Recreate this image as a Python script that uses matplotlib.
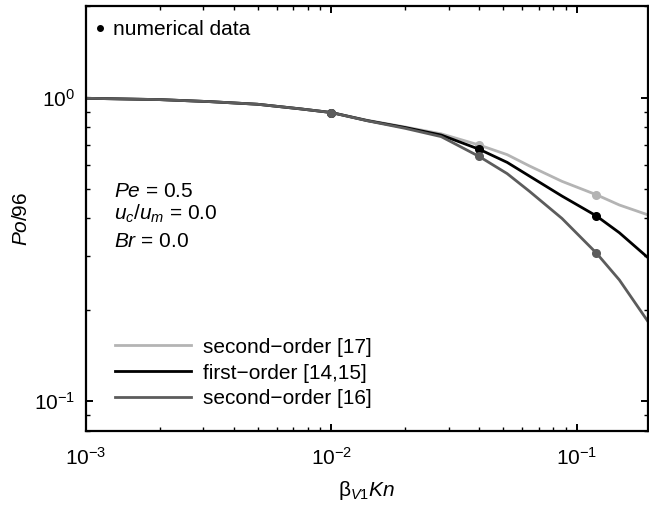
import numpy as np
import matplotlib
matplotlib.use('Agg')
import matplotlib.pyplot as plt
from matplotlib.lines import Line2D

plt.rcParams['font.family'] = ['Liberation Sans', 'DejaVu Sans']
plt.rcParams['mathtext.fontset'] = 'custom'
plt.rcParams['mathtext.rm'] = 'Liberation Sans'
plt.rcParams['mathtext.it'] = 'Liberation Sans:italic'
plt.rcParams['mathtext.bf'] = 'Liberation Sans:bold'

# curves
kn = [0.001, 0.002, 0.0032, 0.005, 0.0075, 0.01, 0.014, 0.02, 0.028, 0.04,
      0.052, 0.064, 0.087, 0.12, 0.149, 0.195]
po_2nd_17 = [0.995, 0.985, 0.970, 0.951, 0.918, 0.893, 0.842, 0.800, 0.760, 0.698,
             0.649, 0.596, 0.530, 0.479, 0.443, 0.411]
po_1st = [0.995, 0.985, 0.970, 0.951, 0.918, 0.893, 0.840, 0.797, 0.753, 0.676,
          0.612, 0.552, 0.474, 0.408, 0.359, 0.297]
po_2nd_16 = [0.995, 0.985, 0.970, 0.951, 0.918, 0.893, 0.839, 0.792, 0.744, 0.640,
             0.562, 0.492, 0.400, 0.308, 0.251, 0.183]

# numerical data points
kn_num = [0.01, 0.04, 0.12]
num_2nd_17 = [0.893, 0.698, 0.479]
num_1st = [0.893, 0.676, 0.408]
num_2nd_16 = [0.893, 0.640, 0.308]

labels = ['second\u2212order [17]', 'first\u2212order [14,15]', 'second\u2212order [16]']
colors = ['#b4b4b4', '#000000', '#5c5c5c']

fig = plt.figure(figsize=(6.49, 5.09), dpi=100)
ax = fig.add_axes([0.1325, 0.1538, 0.866, 0.834])

curves = [po_2nd_17, po_1st, po_2nd_16]
nums = [num_2nd_17, num_1st, num_2nd_16]
handles = []
for yc, yn, c, lab in zip(curves, nums, colors, labels):
    h, = ax.plot(kn, yc, color=c, lw=2.0, label=lab)
    ax.plot(kn_num, yn, 'o', color=c, ms=5.5)
    handles.append(h)

ax.set_xscale('log')
ax.set_yscale('log')
ax.set_xlim(1e-3, 0.195)
ax.set_ylim(0.08, 2.0)

for s in ax.spines.values():
    s.set_linewidth(1.6)
ax.tick_params(which='both', direction='in', top=True, right=True, labelsize=15)
ax.tick_params(which='major', length=5, width=1.4)
ax.tick_params(which='minor', length=3, width=1.0)
ax.tick_params(axis='x', which='major', pad=12)
ax.tick_params(axis='y', which='major', pad=8)

ax.set_xlabel('\u03b2$_{\\it{V1}}$$\\it{Kn}$', fontsize=15, labelpad=7)
ax.set_ylabel('$\\it{Po}$/96', fontsize=15, labelpad=2)

leg = ax.legend(handles=handles, loc='lower left', bbox_to_anchor=(0.029, 0.023),
                frameon=False, fontsize=15, handlelength=3.64, labelspacing=0.33,
                handletextpad=0.6, borderaxespad=0.2)
ax.add_artist(leg)
dot = Line2D([], [], color='black', marker='o', ls='none', ms=4)
ax.legend(handles=[dot], labels=['numerical data'], loc='upper left',
          bbox_to_anchor=(-0.019, 1.012), frameon=False, fontsize=15,
          handlelength=0.6, handletextpad=0.3)

ax.text(0.05, 0.551, '$\\it{Pe}$ = 0.5', transform=ax.transAxes, fontsize=15)
ax.text(0.05, 0.498, '$\\it{u_c}$/$\\it{u_m}$ = 0.0', transform=ax.transAxes, fontsize=15)
ax.text(0.05, 0.433, '$\\it{Br}$ = 0.0', transform=ax.transAxes, fontsize=15)

fig.savefig('out.png', dpi=100)
